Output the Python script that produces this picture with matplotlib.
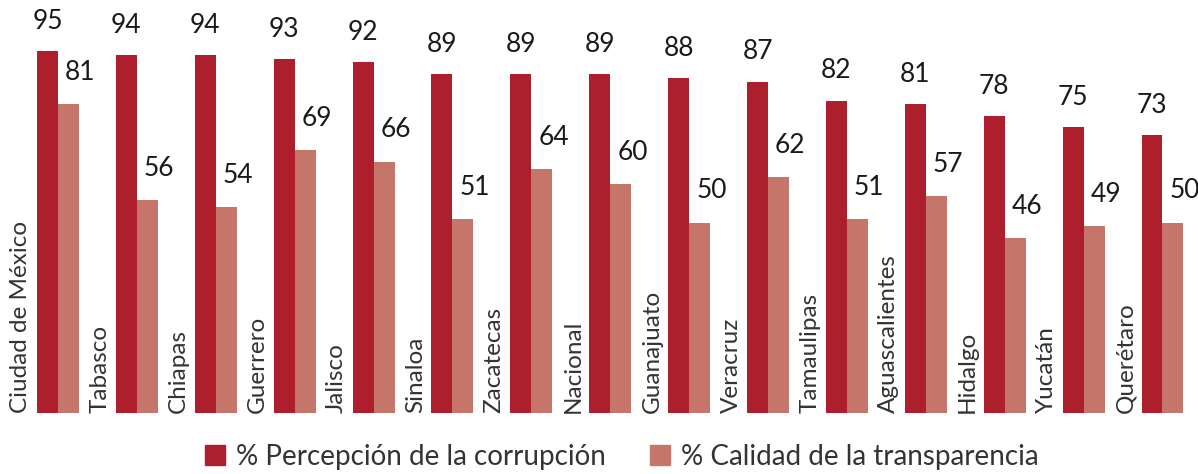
import numpy as np
import matplotlib
matplotlib.use("Agg")
import matplotlib.pyplot as plt
from matplotlib.patches import Patch

plt.rcParams['font.family'] = ['Lato', 'DejaVu Sans']

states = ['Ciudad de México', 'Tabasco', 'Chiapas', 'Guerrero', 'Jalisco', 'Sinaloa',
          'Zacatecas', 'Nacional', 'Guanajuato', 'Veracruz', 'Tamaulipas',
          'Aguascalientes', 'Hidalgo', 'Yucatán', 'Querétaro']
corrupcion = [95, 94, 94, 93, 92, 89, 89, 89, 88, 87, 82, 81, 78, 75, 73]
transparencia = [81, 56, 54, 69, 66, 51, 64, 60, 50, 62, 51, 57, 46, 49, 50]

red = '#AD1F2D'
salmon = '#C6756A'

fig = plt.figure(figsize=(11.98, 4.74), dpi=100)
ax = fig.add_axes([0, 61 / 474, 1, 413 / 474])

x = np.arange(len(states))
w = 0.266
ax.bar(x - w / 2, corrupcion, w, color=red)
ax.bar(x + w / 2, transparencia, w, color=salmon)

for i in range(len(states)):
    ax.text(x[i] - w / 2, corrupcion[i] + 4.5, str(corrupcion[i]),
            ha='center', va='bottom', fontsize=19, color='#1a1a1a')
    ax.text(x[i] + w / 2 + 0.15, transparencia[i] + 5, str(transparencia[i]),
            ha='center', va='bottom', fontsize=19, color='#1a1a1a')
    ax.text(x[i] - 0.47, 0, states[i], rotation=90, ha='center', va='bottom',
            fontsize=17.5, color='#333333')

ax.set_xlim(-0.735, 14.45)
ax.set_ylim(0, 108.4)
ax.axis('off')

handles = [Patch(color=red, label='% Percepción de la corrupción'),
           Patch(color=salmon, label='% Calidad de la transparencia')]
fig.legend(handles=handles, loc='lower center', ncol=2, frameon=False,
           fontsize=20, handlelength=0.72, handleheight=0.72, handletextpad=0.4,
           columnspacing=1.6, bbox_to_anchor=(0.519, -0.044), labelcolor='#333333')

fig.savefig('out.png', dpi=100)
